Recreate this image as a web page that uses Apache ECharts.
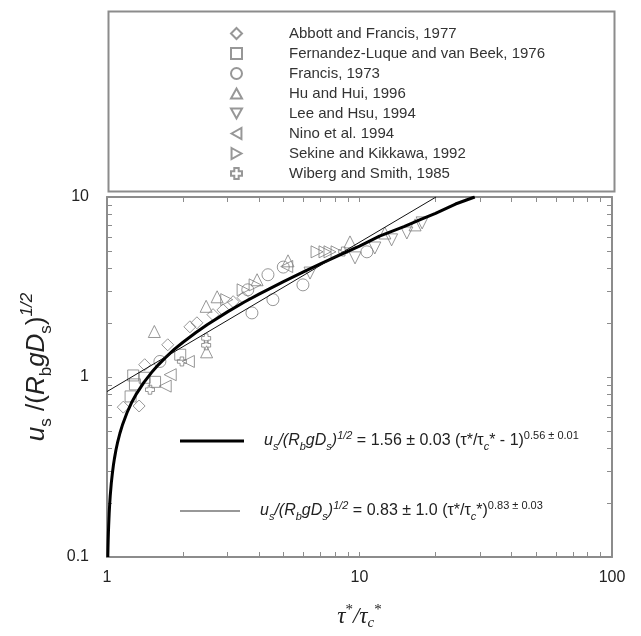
<!DOCTYPE html>
<html>
<head>
<meta charset="UTF-8">
<title>Saltation velocity</title>
<script src="https://cdn.jsdelivr.net/npm/echarts@6/dist/echarts.min.js"></script>
</head>
<body style="margin:0">
<div id="main" style="width:641px;height:636px;"></div>
<script>
// data: [tau*/tauc*, us/(RbgDs)^1/2]
var abbott = [[1.16, 0.68], [1.34, 0.69], [1.41, 1.17], [1.74, 1.51], [2.13, 1.90], [2.27, 2.00],
    [2.63, 2.22], [2.88, 2.36], [3.16, 2.62], [3.46, 2.76]];
var fernandez = [[1.27, 1.02], [1.29, 0.91], [1.24, 0.78], [1.55, 0.94], [1.41, 0.99], [1.95, 1.33]];
var francis = [[1.62, 1.22], [3.75, 2.27], [3.61, 3.05], [4.34, 3.70], [4.54, 2.69], [4.99, 4.08],
    [5.97, 3.25], [10.7, 4.96]];
var huHui = [[1.54, 1.79], [2.47, 2.47], [2.73, 2.79], [2.48, 1.38], [3.93, 3.47], [5.21, 4.42],
    [9.17, 5.63], [12.6, 6.31], [16.6, 7.0]];
var leeHsu = [[6.37, 3.78], [9.6, 4.59], [11.5, 5.21], [13.4, 5.78], [15.4, 6.31], [17.7, 7.18]];
var nino = [[2.10, 1.22], [1.78, 1.03], [1.70, 0.89], [5.15, 4.11]];
var sekine = [[2.98, 2.69], [3.46, 3.05], [3.86, 3.25], [6.79, 4.96], [7.30, 4.96], [7.64, 4.96], [8.15, 4.96]];
var wiberg = [[1.48, 0.85], [1.98, 1.22], [2.47, 1.64], [2.47, 1.50], [8.62, 4.98]];

// fitted curves, points taken along the drawn lines
var fitThick = [[1.0074, 0.1], [1.009, 0.112], [1.011, 0.125], [1.013, 0.137], [1.015, 0.148],
    [1.018, 0.163], [1.02, 0.174], [1.025, 0.198], [1.03, 0.219], [1.04, 0.257], [1.05, 0.291],
    [1.06, 0.323], [1.07, 0.352], [1.085, 0.393], [1.1, 0.430], [1.125, 0.487], [1.15, 0.539],
    [1.2, 0.633], [1.25, 0.719], [1.3, 0.795], [1.4, 0.934], [1.5, 1.058], [1.6, 1.172],
    [1.7, 1.278], [1.85, 1.427], [2, 1.56], [2.25, 1.767], [2.5, 1.958], [3, 2.30], [3.5, 2.610],
    [4, 2.886], [5, 3.39], [6, 3.84], [7, 4.25], [8.5, 4.82], [10, 5.34], [12, 6.06], [15, 6.84],
    [17.5, 7.50], [20, 8.11], [24, 9.14], [28.6, 10.0]];
var fitThin = [[1, 0.83], [20.1, 10]];

var names = ['Abbott and Francis, 1977', 'Fernandez-Luque and van Beek, 1976', 'Francis, 1973',
    'Hu and Hui, 1996', 'Lee and Hsu, 1994', 'Nino et al. 1994', 'Sekine and Kikkawa, 1992',
    'Wiberg and Smith, 1985'];
var xTicks = [1, 2, 3, 4, 5, 6, 7, 8, 9, 10, 20, 30, 40, 50, 60, 70, 80, 90, 100];
var yTicks = [0.1, 0.2, 0.3, 0.4, 0.5, 0.6, 0.7, 0.8, 0.9, 1, 2, 3, 4, 5, 6, 7, 8, 9, 10];

var myChart = echarts.init(document.getElementById('main'));
var gray = '#7d7d7d';
var frame = '#8c8c8c';
var sans = 'Liberation Sans';

// hollow marker shapes
var triUp = 'path://M5,0L10,9L0,9Z';
var triDown = 'path://M0,0L10,0L5,9Z';
var triLeft = 'path://M0,5L9,0L9,10Z';
var triRight = 'path://M0,0L9,5L0,10Z';
var plus = 'path://M3,0H7V3H10V7H7V10H3V7H0V3H3Z';

function scatter(name, data, symbol, size) {
    return {
        name: name, type: 'scatter', data: data, symbol: symbol, symbolSize: size || 11,
        itemStyle: {color: 'rgba(255,255,255,0)', borderColor: gray, borderWidth: 1},
        z: 3
    };
}

var eqRich = {
    n: {fontSize: 16, fontFamily: sans, color: '#222', verticalAlign: 'middle', lineHeight: 22},
    pad: {fontSize: 16, fontFamily: sans, color: '#222', padding: [0, 0, 0, 15]},
    i: {fontSize: 16, fontFamily: sans, fontStyle: 'italic', color: '#222', verticalAlign: 'middle', lineHeight: 22},
    sub: {fontSize: 11, fontFamily: sans, fontStyle: 'italic', color: '#222', verticalAlign: 'bottom', lineHeight: 22},
    sup: {fontSize: 11, fontFamily: sans, fontStyle: 'italic', color: '#222', verticalAlign: 'top', lineHeight: 22},
    supn: {fontSize: 11, fontFamily: sans, color: '#222', verticalAlign: 'top', lineHeight: 22}
};

function axisCommon(pos, ticks, showLabel) {
    return {
        type: 'log', logBase: 10, position: pos,
        axisLine: {show: true, lineStyle: {color: frame, width: 2}},
        axisTick: {show: true, inside: true, length: 5, customValues: ticks, lineStyle: {color: frame, width: 1}},
        minorTick: {show: false},
        splitLine: {show: false},
        axisLabel: {show: showLabel, fontSize: 16, fontFamily: sans, color: '#222'}
    };
}

var x0 = axisCommon('bottom', xTicks, true);
x0.min = 1; x0.max = 100;
x0.axisLabel.margin = 13;
x0.name = '{t|τ}{s|*}{t|/τ}{c|c}{s|*}';
x0.nameLocation = 'middle';
x0.nameGap = 46;
x0.nameTextStyle = {rich: {
    t: {fontSize: 23, fontFamily: 'Liberation Serif', fontStyle: 'italic', color: '#222', lineHeight: 28},
    s: {fontSize: 15, fontFamily: 'Liberation Serif', color: '#222', verticalAlign: 'top', lineHeight: 28},
    c: {fontSize: 15, fontFamily: 'Liberation Serif', fontStyle: 'italic', color: '#222', verticalAlign: 'bottom', lineHeight: 28}
}};
var x1 = axisCommon('top', xTicks, false);
x1.min = 1; x1.max = 100;

var y0 = axisCommon('left', yTicks, true);
y0.min = 0.1; y0.max = 10;
y0.axisLabel.margin = 18;
y0.name = '{g|}{i|u}{b|s}{n| /(}{i|R}{b|b}{i|gD}{b|s}{n|)}{p|1/2}';
y0.nameLocation = 'middle';
y0.nameGap = 52;
y0.nameRotate = 90;
y0.nameTextStyle = {rich: {
    g: {fontSize: 26, padding: [0, 0, 0, 20], lineHeight: 36},
    i: {fontSize: 26, fontFamily: sans, fontStyle: 'italic', color: '#222', lineHeight: 36},
    n: {fontSize: 26, fontFamily: sans, color: '#222', lineHeight: 36},
    b: {fontSize: 17, fontFamily: sans, color: '#222', verticalAlign: 'bottom', lineHeight: 36},
    p: {fontSize: 17, fontFamily: sans, fontStyle: 'italic', color: '#222', verticalAlign: 'top', lineHeight: 36}
}};
var y1 = axisCommon('right', yTicks, false);
y1.min = 0.1; y1.max = 10;

var option = {
    backgroundColor: '#fff',
    animation: false,
    grid: {left: 107, right: 29, top: 197, bottom: 78},
    xAxis: [x0, x1],
    yAxis: [y0, y1],
    graphic: [{
        type: 'rect', left: 106, top: 9, z: 0,
        shape: {width: 506, height: 180},
        style: {fill: 'none', stroke: frame, lineWidth: 2}
    }],
    legend: [{
        data: names, orient: 'vertical', left: 230, top: 26, padding: 0,
        itemWidth: 11, itemHeight: 11, itemGap: 5, selectedMode: false,
        textStyle: {fontSize: 15, fontFamily: sans, color: '#333', padding: [0, 0, 0, 42]}
    }, {
        data: ['fit1'], left: 180, top: 430, padding: 0, icon: 'rect',
        itemWidth: 64, itemHeight: 3, selectedMode: false,
        formatter: function () {
            return '{pad|}{i|u}{sub|s}{i|/(R}{sub|b}{i|gD}{sub|s}{i|)}{sup|1/2}{n| = 1.56 ± 0.03 (τ*/τ}{sub|c}{n|* - 1)}{supn|0.56 ± 0.01}';
        },
        textStyle: {rich: eqRich}
    }, {
        data: ['fit2'], left: 180, top: 500, padding: 0, icon: 'rect',
        itemWidth: 60, itemHeight: 1, selectedMode: false,
        formatter: function () {
            return '{pad|}{i|u}{sub|s}{i|/(R}{sub|b}{i|gD}{sub|s}{i|)}{sup|1/2}{n| = 0.83 ± 1.0 (τ*/τ}{sub|c}{n|*)}{supn|0.83 ± 0.03}';
        },
        textStyle: {rich: eqRich}
    }],
    series: [
        scatter(names[0], abbott, 'diamond', 12),
        scatter(names[1], fernandez, 'rect', 11),
        scatter(names[2], francis, 'circle', 12),
        scatter(names[3], huHui, triUp, 12),
        scatter(names[4], leeHsu, triDown, 12),
        scatter(names[5], nino, triLeft, 12),
        scatter(names[6], sekine, triRight, 12),
        scatter(names[7], wiberg, plus, 9),
        {
            name: 'fit1', type: 'line', data: fitThick,
            symbol: 'none', itemStyle: {color: '#000'}, lineStyle: {color: '#000', width: 3}, z: 4
        },
        {
            name: 'fit2', type: 'line', data: fitThin,
            symbol: 'none', itemStyle: {color: '#333'}, lineStyle: {color: '#111', width: 1}, z: 4
        }
    ]
};

myChart.setOption(option);
</script>
</body>
</html>
